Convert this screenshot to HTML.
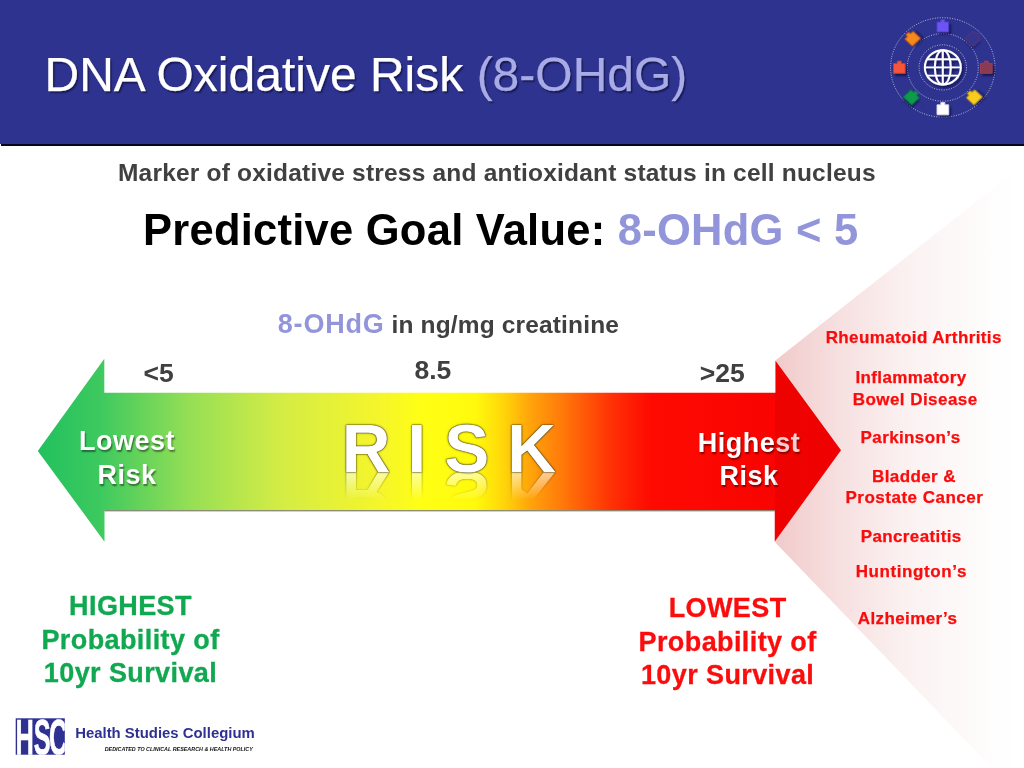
<!DOCTYPE html>
<html lang="en">
<head>
<meta charset="utf-8">
<title>DNA Oxidative Risk (8-OHdG)</title>
<style>
html,body{margin:0;padding:0;}
body{width:1024px;height:768px;overflow:hidden;background:#fff;position:relative;font-family:"Liberation Sans",Arial,sans-serif;}
.t{position:absolute;white-space:nowrap;line-height:1;margin:0;}
.b{font-weight:bold;}
#hdr{position:absolute;left:0;top:0;width:1024px;height:143.6px;background:#2e338f;}
#hline{position:absolute;left:1px;top:143.5px;width:1023px;height:2.3px;background:#05051e;}
#title{left:44.5px;top:51px;font-size:48px;color:#fff;-webkit-text-stroke:.25px;text-shadow:1.5px 1.5px 1.5px rgba(0,0,30,.5);}
#title span{color:#a9abe6;}
#sub{left:118px;top:161px;font-size:24.5px;letter-spacing:.2px;color:#404040;}
#goal{left:143px;top:209.1px;font-size:43.5px;letter-spacing:.25px;color:#000;}
#goal span{color:#9395db;}
#unit{left:277.8px;top:310.8px;font-size:24.5px;letter-spacing:.15px;color:#404040;}
#unit span{color:#9395db;font-size:27px;letter-spacing:.8px;}
.num{font-size:26.5px;color:#404040;}
#n1{left:143.5px;top:360.2px;}
#n2{left:414.5px;top:356.6px;}
#n3{left:699.8px;top:359.5px;}
.wl{color:#fff;font-size:27px;letter-spacing:.5px;text-align:center;line-height:33.3px;text-shadow:1px 1.5px 1.5px rgba(0,0,0,.45);}
#low{left:57.1px;top:425.4px;width:140px;}
#high{left:679px;top:426.5px;width:140px;}
#rk span{margin-left:1.2px;margin-right:-1.2px;}
#rk{transform-origin:0 100%;transform:scaleY(1.025);left:340.6px;top:414.7px;font-size:67.5px;letter-spacing:-.35px;height:57.3px;color:#fff;text-shadow:0 0 1px rgba(70,55,0,1),0 0 1px rgba(70,55,0,1),0 0 1.5px rgba(70,55,0,.9),0 0 2.5px rgba(70,55,0,.5);-webkit-box-reflect:below 0px linear-gradient(to bottom,rgba(255,255,255,0) 52%,rgba(255,255,255,.6) 100%);}
.dis{color:#fa0c0c;font-size:17px;letter-spacing:.38px;line-height:1;-webkit-text-stroke:.25px;}
#d1{left:825.7px;top:329.4px;}
#d2{left:855.4px;top:369.1px;}
#d3{left:852.7px;top:390.6px;}
#d4{left:860.6px;top:428.7px;}
#d5{left:872.1px;top:467.7px;}
#d6{left:845.5px;top:489.4px;}
#d7{left:860.7px;top:527.9px;}
#d8{left:855.7px;top:562.9px;}
#d9{left:857.8px;top:610.1px;}
#d3{letter-spacing:.45px;}
#d8{letter-spacing:.6px;}
#d6{letter-spacing:.5px;}
.prob{font-size:27px;letter-spacing:.4px;-webkit-text-stroke:.3px;text-align:center;line-height:33.5px;}
#p1{left:10.5px;top:590.3px;width:240px;color:#10a850;}
#p2{left:607.6px;top:592px;width:240px;color:#fb0d0d;}
#org{left:75.2px;top:725.8px;font-size:14.9px;color:#2e3192;}
#tag{left:104.7px;top:746.6px;font-size:5.4px;font-style:italic;color:#111;}
svg{position:absolute;left:0;top:0;}
</style>
</head>
<body>
<div id="hdr"></div>
<div id="hline"></div>

<svg id="art" width="1024" height="768" viewBox="0 0 1024 768">
  <defs>
    <filter id="ds" x="-50%" y="-50%" width="220%" height="220%"><feDropShadow dx="2" dy="2.2" stdDeviation="1.1" flood-color="#04042a" flood-opacity=".6"/></filter>
    <linearGradient id="risk" gradientUnits="userSpaceOnUse" x1="38" x2="840" y1="0" y2="0">
      <stop offset="0" stop-color="#22c15e"/>
      <stop offset="0.077" stop-color="#3dc95f"/>
      <stop offset="0.19" stop-color="#96df55"/>
      <stop offset="0.30" stop-color="#d3ec45"/>
      <stop offset="0.43" stop-color="#f6f62a"/>
      <stop offset="0.48" stop-color="#ffff14"/>
      <stop offset="0.545" stop-color="#fffa0c"/>
      <stop offset="0.58" stop-color="#ffd60a"/>
      <stop offset="0.613" stop-color="#ffa50a"/>
      <stop offset="0.655" stop-color="#ff780a"/>
      <stop offset="0.714" stop-color="#ff3205"/>
      <stop offset="0.763" stop-color="#fe0a02"/>
      <stop offset="1" stop-color="#f80000"/>
    </linearGradient>
  </defs>
  <polygon points="37.8,451 104.3,358.8 104.3,392.8 775.5,392.8 775.5,360.8 841,450.3 774.8,541.6 774.8,510.2 104.5,510.2 104.5,541.7" fill="url(#risk)"/>
  <rect x="104.5" y="510" width="670.3" height="1.4" fill="#6b6b55" opacity=".75"/>
  <g id="globe" transform="translate(942.8 67.4) scale(1 .952)">
  <g fill="none" stroke="#fff" stroke-opacity=".78" stroke-width=".9" stroke-dasharray="1 1.5">
  <circle r="52.2"/>
  <circle r="35.5"/>
  <circle r="23.7"/>
  </g>
  <g fill="none" stroke="#fff" stroke-width="2" filter="url(#ds)">
  <circle r="18"/><ellipse rx="8" ry="18"/><path d="M0-18V18M-18 0H18M-15.8-8.6H15.8M-15.8 8.6H15.8"/>
  </g>
  <g transform="translate(0.0 -43.5) rotate(0)" filter="url(#ds)" opacity="1"><path d="M-5.8-4.2H-2V-6.6H2V-4.2H5.8V6.2H-5.8Z" fill="#6a55f2" stroke="#4f3fd0" stroke-width=".9"/></g>
  <g transform="translate(30.8 -30.8) rotate(45)" filter="url(#ds)" opacity="0.55"><path d="M-5.8-4.2H-2V-6.6H2V-4.2H5.8V6.2H-5.8Z" fill="#3b3590" stroke="#7a3a5a" stroke-width=".9"/></g>
  <g transform="translate(43.5 0.0) rotate(0)" filter="url(#ds)" opacity="1"><path d="M-5.8-4.2H-2V-6.6H2V-4.2H5.8V6.2H-5.8Z" fill="#8a3a50" stroke="#a04052" stroke-width=".9"/></g>
  <g transform="translate(30.8 30.8) rotate(-45)" filter="url(#ds)" opacity="1"><path d="M-5.8-4.2H-2V-6.6H2V-4.2H5.8V6.2H-5.8Z" fill="#f8cc1c" stroke="#d9a800" stroke-width=".9"/></g>
  <g transform="translate(0.0 43.5) rotate(0)" filter="url(#ds)" opacity="1"><path d="M-5.8-4.2H-2V-6.6H2V-4.2H5.8V6.2H-5.8Z" fill="#ffffff" stroke="#d8d8ee" stroke-width=".9"/></g>
  <g transform="translate(-30.8 30.8) rotate(45)" filter="url(#ds)" opacity="1"><path d="M-5.8-4.2H-2V-6.6H2V-4.2H5.8V6.2H-5.8Z" fill="#109a4e" stroke="#0c8040" stroke-width=".9"/></g>
  <g transform="translate(-43.5 0.0) rotate(0)" filter="url(#ds)" opacity="1"><path d="M-5.8-4.2H-2V-6.6H2V-4.2H5.8V6.2H-5.8Z" fill="#f6553a" stroke="#d23c22" stroke-width=".9"/></g>
  <g transform="translate(-30.8 -30.8) rotate(-45)" filter="url(#ds)" opacity="1"><path d="M-5.8-4.2H-2V-6.6H2V-4.2H5.8V6.2H-5.8Z" fill="#f48a1c" stroke="#c8581e" stroke-width=".9"/></g>
  </g>
  <g id="hsc">
    <clipPath id="hscclip"><rect x="15.7" y="718.3" width="49.1" height="36.4"/></clipPath>
    <rect x="15.7" y="718.3" width="49.1" height="36.4" fill="#2e3192"/>
    <g clip-path="url(#hscclip)"><text transform="translate(15.4 754.7) scale(.5 1)" font-family="Liberation Sans, Arial, sans-serif" font-weight="bold" font-size="50.6" fill="#fff" stroke="#fff" stroke-width=".7">HS<tspan dx="-3">C</tspan></text></g>
  </g>
</svg>

<p id="title" class="t">DNA Oxidative Risk <span>(8-OHdG)</span></p>
<p id="sub" class="t b">Marker of oxidative stress and antioxidant status in cell nucleus</p>
<p id="goal" class="t b">Predictive Goal Value: <span>8-OHdG &lt; 5</span></p>
<p id="unit" class="t b"><span>8-OHdG</span> in ng/mg creatinine</p>
<p id="n1" class="t b num">&lt;5</p>
<p id="n2" class="t b num">8.5</p>
<p id="n3" class="t b num">&gt;25</p>
<p id="low" class="t b wl">Lowest<br>Risk</p>
<p id="high" class="t b wl">Highest<br>Risk</p>

<svg id="fansvg" width="1024" height="768" viewBox="0 0 1024 768">
  <defs>
    <linearGradient id="fan" x1="0" x2="1" y1="0" y2="0">
      <stop offset="0" stop-color="#be0000" stop-opacity=".21"/>
      <stop offset="0.25" stop-color="#be0000" stop-opacity=".125"/>
      <stop offset="0.52" stop-color="#be0000" stop-opacity=".058"/>
      <stop offset="0.70" stop-color="#be0000" stop-opacity=".03"/>
      <stop offset="0.90" stop-color="#be0000" stop-opacity=".008"/>
      <stop offset="0.97" stop-color="#be0000" stop-opacity="0"/>
    </linearGradient>
  </defs>
  <polygon points="775.3,360.6 1024,164 1024,768 992,768 774.6,541.8" fill="url(#fan)"/>
</svg>
<p id="rk" class="t b"><span>R</span> I S K</p>

<p id="d1" class="t b dis">Rheumatoid Arthritis</p>
<p id="d2" class="t b dis">Inflammatory</p>
<p id="d3" class="t b dis">Bowel Disease</p>
<p id="d4" class="t b dis">Parkinson’s</p>
<p id="d5" class="t b dis">Bladder &amp;</p>
<p id="d6" class="t b dis">Prostate Cancer</p>
<p id="d7" class="t b dis">Pancreatitis</p>
<p id="d8" class="t b dis">Huntington’s</p>
<p id="d9" class="t b dis">Alzheimer’s</p>

<p id="org" class="t b">Health Studies Collegium</p>
<p id="tag" class="t b">DEDICATED TO CLINICAL RESEARCH &amp; HEALTH POLICY</p>
<p id="p1" class="t b prob">HIGHEST<br>Probability of<br>10yr Survival</p>
<p id="p2" class="t b prob">LOWEST<br>Probability of<br>10yr Survival</p>
</body>
</html>
